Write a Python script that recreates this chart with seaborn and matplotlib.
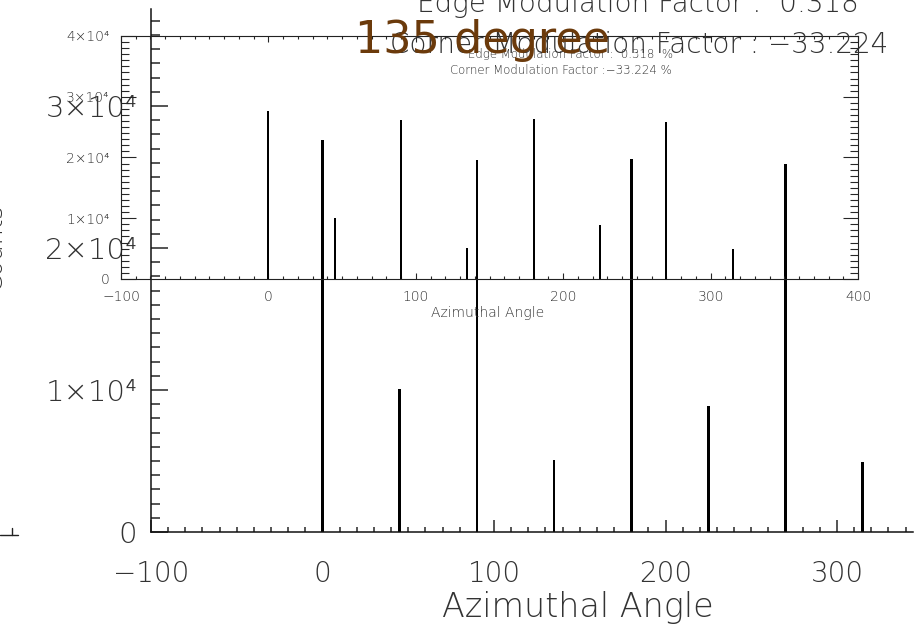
import numpy as np
import pandas as pd
import matplotlib
matplotlib.use('Agg')
import matplotlib.pyplot as plt
from matplotlib.lines import Line2D
from matplotlib.ticker import MultipleLocator, FuncFormatter
import seaborn as sns

# histogram of azimuthal angles (same data in main plot and inset)
angles = [0, 45, 90, 135, 180, 225, 270, 315]
counts = [27600, 10100, 26200, 5100, 26300, 8900, 25900, 4900]

title = '135 degree'
edge_text = 'Edge Modulation Factor :  0.318'
corner_text = 'Corner Modulation Factor : \u221233.224'
edge_text_small = 'Edge Modulation Factor :  0.318  %'
corner_text_small = 'Corner Modulation Factor :\u221233.224 %'

df = pd.DataFrame({'angle': angles, 'counts': counts})

sns.set_style('ticks')
plt.rcParams['font.family'] = ['DejaVu Sans']
plt.rcParams['font.weight'] = 'light'
plt.rcParams['axes.labelweight'] = 'light'

W, H = 919, 629
fig = plt.figure(figsize=(W / 100, H / 100), dpi=100)


def sci_label(v, pos):
    if v == 0:
        return '0'
    return f'{int(round(v / 1e4))}\u00d710\u2074'


def fx(px):
    return px / W


def fy(py):
    return 1 - py / H


# ---- big background plot ----
ax = fig.add_axes([fx(151), fy(532), (913 - 151) / W, (532 - 9) / H])
sns.barplot(data=df, x='angle', y='counts', native_scale=True, width=0.034,
            color='black', saturation=1, errorbar=None, linewidth=0, ax=ax)
ax.set_xlim(-100, 344.3)
ax.set_ylim(0, 36830)
ax.spines[['top', 'right']].set_visible(False)
for s in ['left', 'bottom']:
    ax.spines[s].set_linewidth(1.1)
    ax.spines[s].set_color('#111111')
ax.xaxis.set_major_locator(MultipleLocator(100))
ax.xaxis.set_minor_locator(MultipleLocator(10))
ax.yaxis.set_major_locator(MultipleLocator(10000))
ax.yaxis.set_minor_locator(MultipleLocator(1000))
ax.yaxis.set_major_formatter(FuncFormatter(sci_label))
ax.tick_params(axis='x', which='major', direction='in', length=8.5, width=1.1,
               labelsize=20, pad=20, labelcolor='#333333')
ax.tick_params(axis='x', which='minor', direction='in', length=3.5, width=1.1)
ax.tick_params(axis='y', which='major', direction='in', length=12, width=1.1,
               labelsize=21, pad=10, labelcolor='#333333')
ax.tick_params(axis='y', which='minor', direction='in', length=6.5, width=1.1)
ax.set_xlabel('Azimuthal Angle', fontsize=24, color='#333333', fontweight='light')
ax.xaxis.set_label_coords((578 - 151) / 762, (532 - 608) / 523)
ax.xaxis.label.set_va('center')
ax.set_ylabel('')

# ---- inset plot ----
ins = fig.add_axes([fx(121), fy(279), (858 - 121) / W, (279 - 36) / H])
ins.patch.set_alpha(0)
sns.barplot(data=df, x='angle', y='counts', native_scale=True, width=0.031,
            color='black', saturation=1, errorbar=None, linewidth=0, ax=ins)
ins.set_xlim(-100, 400)
ins.set_ylim(0, 40000)
for s in ins.spines.values():
    s.set_linewidth(0.8)
    s.set_color('#222222')
ins.xaxis.set_major_locator(MultipleLocator(100))
ins.xaxis.set_minor_locator(MultipleLocator(10))
ins.yaxis.set_major_locator(MultipleLocator(10000))
ins.yaxis.set_minor_locator(MultipleLocator(1000))
ins.yaxis.set_major_formatter(FuncFormatter(sci_label))
ins.tick_params(axis='both', which='both', direction='in', top=True, right=True, width=0.8)
ins.tick_params(axis='x', which='major', length=4.3, labelsize=10, pad=8, labelcolor='#333333')
ins.tick_params(axis='x', which='minor', length=2.2)
ins.tick_params(axis='y', which='major', length=11, labelsize=10, pad=8, labelcolor='#333333')
ins.tick_params(axis='y', which='minor', length=5.5)
ins.set_xlabel('Azimuthal Angle', fontsize=10, color='#333333', fontweight='light')
ins.xaxis.set_label_coords((488 - 121) / 737, (279 - 313) / 243)
ins.xaxis.label.set_va('center')
ins.set_ylabel('')

# ---- texts ----
fig.text(fx(417), fy(12), edge_text, fontsize=20, color='#333333', va='baseline', ha='left')
fig.text(fx(390), fy(53), corner_text, fontsize=20, color='#333333', va='baseline', ha='left')
fig.text(fx(571), fy(58), edge_text_small, fontsize=8.5, color='#333333', va='baseline', ha='center')
fig.text(fx(561), fy(74), corner_text_small, fontsize=8.5, color='#333333', va='baseline', ha='center')
fig.text(fx(-6), fy(246), 'Counts', fontsize=18, rotation=90, color='#333333',
         ha='center', va='center')
fig.text(fx(483), fy(53), title, fontsize=32, color='#6b3a0b', fontweight='normal',
         va='baseline', ha='center')

# stray axis fragment at the bottom-left edge
fig.add_artist(Line2D([fx(0), fx(18)], [fy(535), fy(535)], color='#222222', lw=1))
fig.add_artist(Line2D([fx(12), fx(12)], [fy(535), fy(528)], color='#222222', lw=1))

fig.savefig('out.png', dpi=100)
